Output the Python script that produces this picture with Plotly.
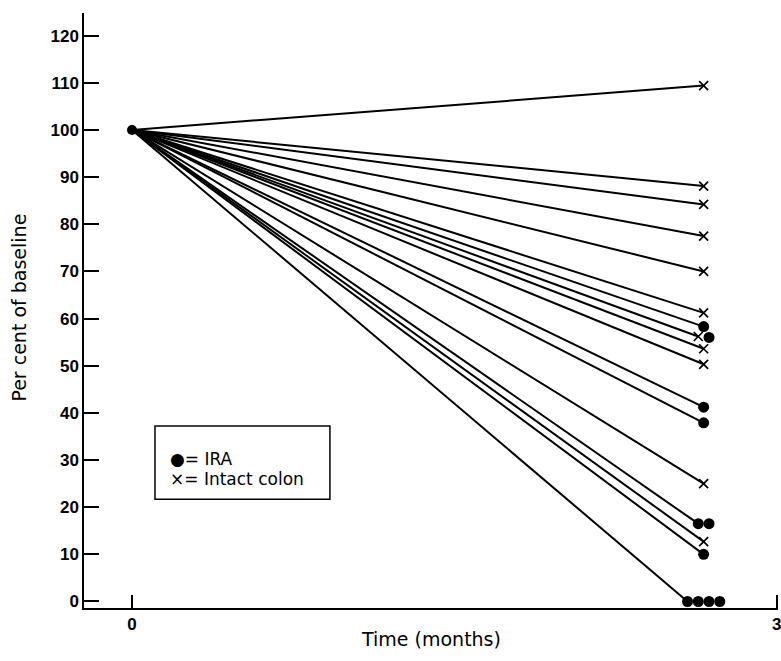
import plotly.graph_objects as go

# ---- data ----
baseline_time = 0
baseline_value = 100
end_time = 2.66  # months at which the follow-up values are plotted
ira_end = [58.3, 56.0, 41.2, 37.9, 16.5, 16.5, 10.0, 0, 0, 0, 0]
intact_end = [109.4, 88.1, 84.2, 77.5, 70.0, 61.2, 56.2, 53.6, 50.3, 25.0, 12.7]
y_ticks = [0, 10, 20, 30, 40, 50, 60, 70, 80, 90, 100, 110, 120]
x_ticks = [0, 3]

# ---- group coincident end points so markers sit side by side ----
points = [(v, "intact") for v in intact_end] + [(v, "ira") for v in ira_end]
points.sort(key=lambda p: (-p[0], 0 if p[1] == "intact" else 1))
clusters = []
for p in points:
    if clusters and abs(clusters[-1][-1][0] - p[0]) < 1.0:
        clusters[-1].append(p)
    else:
        clusters.append([p])

step = 0.05
line_x, line_y = [], []
ira_x, ira_y, int_x, int_y = [], [], [], []
for cl in clusters:
    n = len(cl)
    xs = [end_time + (i - (n - 1) / 2) * step for i in range(n)]
    line_x += [baseline_time, xs[0], None]
    line_y += [baseline_value, cl[0][0], None]
    for xv, (v, g) in zip(xs, cl):
        if g == "ira":
            ira_x.append(xv); ira_y.append(v)
        else:
            int_x.append(xv); int_y.append(v)

fig = go.Figure()
fig.add_trace(go.Scatter(x=line_x, y=line_y, mode="lines",
                         line=dict(color="black", width=2),
                         hoverinfo="skip", showlegend=False))
fig.add_trace(go.Scatter(x=[baseline_time], y=[baseline_value], mode="markers",
                         marker=dict(color="black", size=10), showlegend=False,
                         cliponaxis=False))
fig.add_trace(go.Scatter(x=int_x, y=int_y, mode="markers", name="Intact colon",
                         marker=dict(symbol="x-thin-open", size=9, color="black",
                                     line=dict(color="black", width=1.7)),
                         showlegend=False, cliponaxis=False))
fig.add_trace(go.Scatter(x=ira_x, y=ira_y, mode="markers", name="IRA",
                         marker=dict(symbol="circle", size=11, color="black"),
                         showlegend=False, cliponaxis=False))

tickfont = dict(family="Liberation Sans", size=17, color="black", weight="bold")
fig.update_xaxes(range=[-0.2233, 3.006], tickvals=x_ticks, ticks="inside", ticklen=13,
                 tickwidth=1.5, tickcolor="black", showline=True, linecolor="black",
                 linewidth=1.5, showgrid=False, zeroline=False, tickfont=tickfont,
                 automargin=False, ticklabeloverflow="allow")
fig.update_yaxes(range=[-1.38, 124.8], tickvals=y_ticks, ticks="inside", ticklen=15,
                 tickwidth=1.5, tickcolor="black", showline=True, linecolor="black",
                 linewidth=1.5, showgrid=False, zeroline=False, tickfont=tickfont,
                 ticklabelstandoff=0, automargin=False)

labfont = dict(family="DejaVu Sans", size=19, color="black")
legfont = dict(family="DejaVu Sans", size=17, color="black")
fig.add_shape(type="rect", xref="x", yref="y", x0=0.107, x1=0.921, y0=21.7, y1=37.2,
              line=dict(color="black", width=1.5), fillcolor="white", layer="below")
fig.add_annotation(xref="x", yref="y", x=0.167, y=30.3, text="●= IRA", showarrow=False,
                   xanchor="left", yanchor="middle", font=legfont)
fig.add_annotation(xref="x", yref="y", x=0.167, y=25.9, text="×= Intact colon",
                   showarrow=False, xanchor="left", yanchor="middle", font=legfont)
fig.add_annotation(xref="paper", yref="paper", x=0.5, y=-0.052, text="Time (months)",
                   showarrow=False, xanchor="center", yanchor="middle", font=labfont)
fig.add_annotation(xref="paper", yref="paper", x=-0.095, y=0.505,
                   text="Per cent of baseline", textangle=-90, showarrow=False,
                   xanchor="center", yanchor="middle", font=labfont)

fig.update_layout(width=781, height=661, template="none",
                  margin=dict(l=84, r=3, t=13, b=53),
                  paper_bgcolor="white", plot_bgcolor="white", showlegend=False)

fig.write_html("out.html", config={"displayModeBar": False},
               post_script="document.body.style.margin='0';document.body.style.overflow='hidden';")
